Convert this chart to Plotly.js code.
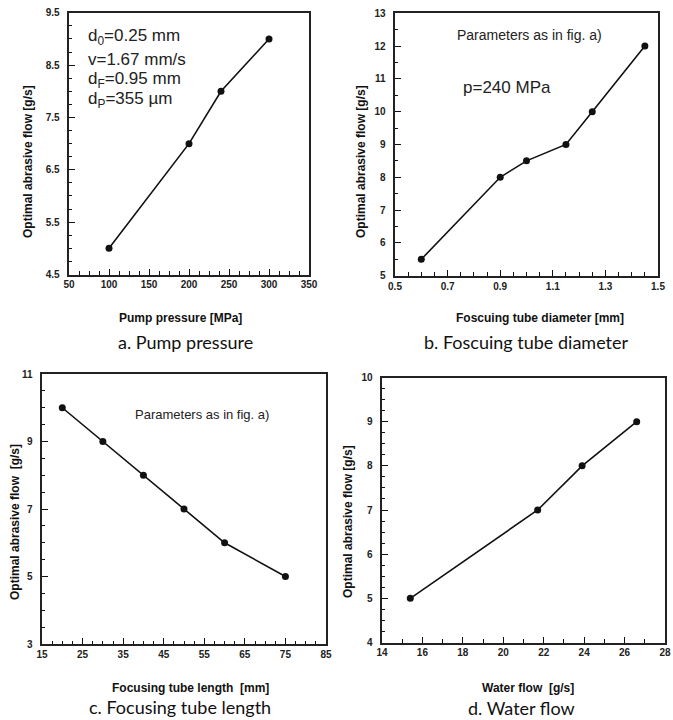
<!DOCTYPE html>
<html>
<head>
<meta charset="utf-8">
<script src="https://cdn.plot.ly/plotly-3.0.1.min.js"></script>
<style>
html,body{margin:0;padding:0;background:#fff;}
#chart{width:673px;height:720px;}
</style>
</head>
<body>
<div id="chart"></div>
<script>
// ---- data ----
const pumpPressure = [100, 200, 240, 300];
const flowA = [5, 7, 8, 9];

const tubeDiameter = [0.6, 0.9, 1.0, 1.15, 1.25, 1.45];
const flowB = [5.5, 8, 8.5, 9, 10, 12];

const tubeLength = [20, 30, 40, 50, 60, 75];
const flowC = [10, 9, 8, 7, 6, 5];

const waterFlow = [15.4, 21.7, 23.9, 26.6];
const flowD = [5, 7, 8, 9];

const yTitle = 'Optimal abrasive flow [g/s]';
const yTitleC = 'Optimal abrasive flow  [g/s]';
const xTitles = ['Pump pressure [MPa]', 'Foscuing tube diameter [mm]', 'Focusing tube length  [mm]', 'Water flow  [g/s]'];
const captions = ['a. Pump pressure', 'b. Foscuing tube diameter', 'c. Focusing tube length', 'd. Water flow'];

// ---- helpers ----
const W = 673, H = 720;
const px = x => x / W;
const py = y => 1 - y / H;

const lineStyle = {color: '#111', width: 1.6};
const markerStyle = {color: '#111', size: 7};
function tr(x, y, xa, ya) {
  return {x: x, y: y, xaxis: xa, yaxis: ya, type: 'scatter', mode: 'lines+markers',
          line: lineStyle, marker: markerStyle, showlegend: false, hoverinfo: 'skip'};
}
const data = [
  tr(pumpPressure, flowA, 'x', 'y'),
  tr(tubeDiameter, flowB, 'x2', 'y2'),
  tr(tubeLength, flowC, 'x3', 'y3'),
  tr(waterFlow, flowD, 'x4', 'y4')
];

const tickFont = {family: 'Liberation Sans, Arial, sans-serif', size: 10, weight: 'bold', color: '#222'};
function ax(domain, range, tick0, dtick, minorDtick, anchor, isY) {
  const a = {
    domain: domain, range: range, anchor: anchor,
    tickmode: 'linear', tick0: tick0, dtick: dtick,
    ticks: 'inside', ticklen: 6, tickwidth: 1.4, tickcolor: '#111',
    minor: {dtick: minorDtick, ticks: 'inside', ticklen: 3.5, tickwidth: 1.2, tickcolor: '#111'},
    showline: true, linecolor: '#222', linewidth: 1.6, mirror: true,
    showgrid: false, zeroline: false,
    tickfont: tickFont
  };
  if (isY) a.ticksuffix = '\u00a0\u00a0';
  return a;
}

const layout = {
  width: W, height: H,
  margin: {l: 0, r: 0, t: 0, b: 0},
  paper_bgcolor: '#fff', plot_bgcolor: '#fff',
  showlegend: false,
  xaxis:  ax([px(69), px(309)], [50, 350], 50, 50, 12.5, 'y', false),
  yaxis:  ax([py(274.5), py(12.8)], [4.5, 9.5], 4.5, 1, 0.25, 'x', true),
  xaxis2: ax([px(395), px(658)], [0.5, 1.5], 0.5, 0.2, 0.05, 'y2', false),
  yaxis2: ax([py(275.7), py(13.2)], [5, 13], 5, 1, 0.5, 'x2', true),
  xaxis3: ax([px(42), px(326)], [15, 85], 15, 10, 2.5, 'y3', false),
  yaxis3: ax([py(644), py(374)], [3, 11], 3, 2, 0.5, 'x3', true),
  xaxis4: ax([px(382), px(665)], [14, 28], 14, 2, 1, 'y4', false),
  yaxis4: ax([py(642.5), py(377.5)], [4, 10], 4, 1, 0.25, 'x4', true),
  annotations: []
};

const titleFont = {family: 'Liberation Sans, Arial, sans-serif', size: 12, weight: 'bold', color: '#111'};
const capFont = {family: 'Lato, sans-serif', size: 18, color: '#111'};
const noteFont = {family: 'Liberation Sans, Arial, sans-serif', size: 17, color: '#222'};
function ann(text, x, y, font, extra) {
  return Object.assign({text: text, x: px(x), y: py(y), xref: 'paper', yref: 'paper',
    showarrow: false, font: font, xanchor: 'center', yanchor: 'middle'}, extra || {});
}
const A = layout.annotations;
A.push(ann(yTitle, 28, 162, titleFont, {textangle: -90}));
A.push(ann(yTitle, 361, 162, titleFont, {textangle: -90}));
A.push(ann(yTitleC, 15, 522, titleFont, {textangle: -90}));
A.push(ann(yTitle, 348, 522, titleFont, {textangle: -90}));
A.push(ann(xTitles[0], 180, 318, titleFont));
A.push(ann(xTitles[1], 540, 318, titleFont));
A.push(ann(xTitles[2], 190, 688, titleFont));
A.push(ann(xTitles[3], 528, 688, titleFont));
A.push(ann(captions[0], 185, 342, capFont));
A.push(ann(captions[1], 526, 342, capFont));
A.push(ann(captions[2], 180, 707, capFont));
A.push(ann(captions[3], 521, 708, capFont));
A.push(ann('d<sub>0</sub>=0.25 mm', 86, 37, noteFont, {xanchor: 'left'}));
A.push(ann('v=1.67 mm/s', 86, 59, noteFont, {xanchor: 'left'}));
A.push(ann('d<sub>F</sub>=0.95 mm', 86, 80, noteFont, {xanchor: 'left'}));
A.push(ann('d<sub>P</sub>=355 µm', 86, 100, noteFont, {xanchor: 'left'}));
A.push(ann('Parameters as in fig. a)', 455, 35, {family: 'Liberation Sans, Arial, sans-serif', size: 14, color: '#222'}, {xanchor: 'left'}));
A.push(ann('p=240 MPa', 461, 87, noteFont, {xanchor: 'left'}));
A.push(ann('Parameters as in fig. a)', 133, 415, {family: 'Liberation Sans, Arial, sans-serif', size: 13, color: '#222'}, {xanchor: 'left'}));

Plotly.newPlot('chart', data, layout, {displayModeBar: false});
</script>
</body>
</html>
